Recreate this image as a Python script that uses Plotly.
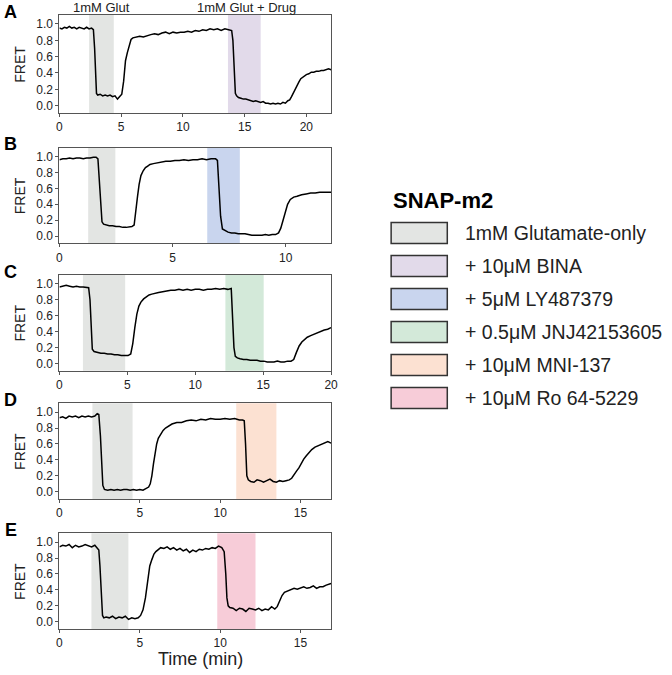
import plotly.graph_objects as go

# ---------------- data ----------------
panel_letters = ["A", "B", "C", "D", "E"]
x_max = [22, 12, 20, 16.9, 16.9]

glut_windows = [(2.4, 4.4), (1.27, 2.47), (1.73, 4.84), (2.05, 4.55), (1.99, 4.29)]
drug_windows = [(13.65, 16.3), (6.53, 7.97), (12.22, 15.04), (11.0, 13.5), (9.82, 12.2)]

legend_title = "SNAP-m2"
legend_labels = ["1mM Glutamate-only", "+ 10\u03bcM BINA", "+ 5\u03bcM LY487379",
                 "+ 0.5\u03bcM JNJ42153605", "+ 10\u03bcM MNI-137", "+ 10\u03bcM Ro 64-5229"]
legend_colors = ["#e3e5e3", "#e2daea", "#c9d5ee", "#d3e9d9", "#fce1d2", "#f7ccd8"]

t_A = [0, 0.2, 0.4, 0.6, 0.8, 1.0, 1.2, 1.4, 1.6, 1.8, 2.0, 2.2, 2.4, 2.6, 2.75, 2.85, 2.92, 3.0,
       3.1, 3.3, 3.5, 3.7, 3.9, 4.1, 4.3, 4.5, 4.7, 4.9, 5.05, 5.2, 5.35, 5.5, 5.65, 5.8, 5.95,
       6.2, 6.5, 6.8, 7.1, 7.4, 7.7, 8.0, 8.3, 8.6, 8.9, 9.2, 9.5, 9.8, 10.1, 10.4, 10.7, 11.0,
       11.3, 11.6, 11.9, 12.2, 12.5, 12.8, 13.1, 13.4, 13.7, 13.95, 14.05, 14.15, 14.25, 14.35,
       14.5, 14.7, 14.9, 15.1, 15.3, 15.5, 15.7, 15.9, 16.1, 16.3, 16.5, 16.7, 16.9, 17.1, 17.3,
       17.5, 17.7, 17.9, 18.1, 18.3, 18.5, 18.65, 18.8, 18.95, 19.1, 19.25, 19.4, 19.55, 19.7,
       19.85, 20.0, 20.2, 20.4, 20.6, 20.8, 21.0, 21.2, 21.4, 21.6, 21.8, 22.0]
fret_A = [0.95, 0.94, 0.96, 0.95, 0.97, 0.95, 0.96, 0.94, 0.96, 0.95, 0.94, 0.96, 0.94, 0.95,
          0.93, 0.70, 0.30, 0.15, 0.13, 0.14, 0.12, 0.13, 0.12, 0.13, 0.11, 0.12, 0.08, 0.11,
          0.14, 0.30, 0.55, 0.65, 0.75, 0.81, 0.83, 0.84, 0.85, 0.84, 0.86, 0.87, 0.88, 0.87,
          0.89, 0.90, 0.88, 0.90, 0.89, 0.90, 0.90, 0.91, 0.90, 0.92, 0.91, 0.93, 0.92, 0.94,
          0.93, 0.94, 0.92, 0.94, 0.93, 0.92, 0.80, 0.40, 0.15, 0.12, 0.10, 0.09, 0.08, 0.08,
          0.07, 0.06, 0.05, 0.06, 0.05, 0.04, 0.05, 0.03, 0.03, 0.02, 0.03, 0.02, 0.03, 0.02,
          0.04, 0.03, 0.06, 0.07, 0.11, 0.16, 0.20, 0.25, 0.29, 0.33, 0.35, 0.37, 0.38, 0.39,
          0.41, 0.41, 0.42, 0.42, 0.43, 0.43, 0.44, 0.45, 0.44]

t_B = [0, 0.15, 0.3, 0.45, 0.6, 0.75, 0.9, 1.05, 1.2, 1.35, 1.5, 1.62, 1.7, 1.76, 1.82, 1.88,
       1.95, 2.05, 2.2, 2.35, 2.5, 2.65, 2.8, 2.95, 3.1, 3.2, 3.3, 3.38, 3.45, 3.52, 3.6, 3.7,
       3.8, 3.9, 4.0, 4.15, 4.3, 4.5, 4.7, 4.9, 5.1, 5.3, 5.5, 5.7, 5.9, 6.1, 6.3, 6.5, 6.7,
       6.9, 6.98, 7.05, 7.12, 7.2, 7.3, 7.45, 7.6, 7.75, 7.9, 8.05, 8.2, 8.35, 8.5, 8.65, 8.8,
       8.95, 9.1, 9.25, 9.4, 9.55, 9.68, 9.78, 9.88, 9.98, 10.08, 10.2, 10.35, 10.5, 10.7,
       10.9, 11.1, 11.3, 11.5, 11.7, 11.9, 12.0]
fret_B = [0.96, 0.97, 0.97, 0.98, 0.97, 0.98, 0.98, 0.97, 0.98, 0.98, 0.99, 0.99, 0.97, 0.70,
          0.35, 0.18, 0.15, 0.14, 0.13, 0.13, 0.12, 0.12, 0.11, 0.11, 0.12, 0.12, 0.14, 0.30,
          0.50, 0.65, 0.76, 0.82, 0.86, 0.88, 0.90, 0.91, 0.92, 0.93, 0.94, 0.94, 0.95, 0.95,
          0.96, 0.95, 0.96, 0.96, 0.97, 0.96, 0.97, 0.97, 0.95, 0.60, 0.25, 0.09, 0.07, 0.05,
          0.04, 0.04, 0.03, 0.03, 0.03, 0.02, 0.01, 0.01, 0.01, 0.01, 0.02, 0.01, 0.02, 0.02,
          0.04, 0.10, 0.20, 0.32, 0.40, 0.46, 0.49, 0.50, 0.52, 0.53, 0.54, 0.54, 0.55, 0.55,
          0.55, 0.55]

t_C = [0, 0.25, 0.5, 0.75, 1.0, 1.25, 1.5, 1.75, 2.0, 2.15, 2.25, 2.33, 2.42, 2.55, 2.8, 3.05,
       3.3, 3.55, 3.8, 4.05, 4.3, 4.55, 4.8, 5.05, 5.25, 5.4, 5.55, 5.7, 5.85, 6.0, 6.2, 6.4,
       6.6, 6.8, 7.0, 7.3, 7.6, 7.9, 8.2, 8.5, 8.8, 9.1, 9.4, 9.7, 10.0, 10.3, 10.6, 10.9, 11.2,
       11.5, 11.8, 12.1, 12.4, 12.65, 12.75, 12.85, 12.95, 13.1, 13.3, 13.55, 13.8, 14.05, 14.3,
       14.55, 14.8, 15.05, 15.3, 15.55, 15.8, 16.05, 16.3, 16.55, 16.8, 17.05, 17.25, 17.45,
       17.65, 17.85, 18.05, 18.25, 18.5, 18.75, 19.0, 19.25, 19.5, 19.75, 20.0]
fret_C = [0.96, 0.97, 0.98, 0.97, 0.96, 0.97, 0.96, 0.96, 0.95, 0.95, 0.80, 0.40, 0.18, 0.15,
          0.14, 0.13, 0.13, 0.12, 0.12, 0.11, 0.11, 0.10, 0.10, 0.10, 0.12, 0.25, 0.45, 0.62,
          0.72, 0.77, 0.81, 0.84, 0.86, 0.87, 0.88, 0.89, 0.90, 0.91, 0.92, 0.92, 0.93, 0.92,
          0.93, 0.92, 0.93, 0.93, 0.92, 0.93, 0.93, 0.94, 0.93, 0.94, 0.93, 0.94, 0.60, 0.20,
          0.09, 0.07, 0.06, 0.05, 0.05, 0.04, 0.04, 0.04, 0.03, 0.03, 0.02, 0.02, 0.02, 0.03,
          0.02, 0.02, 0.03, 0.03, 0.05, 0.14, 0.22, 0.27, 0.30, 0.33, 0.35, 0.37, 0.39, 0.40,
          0.42, 0.43, 0.45]

t_D = [0, 0.2, 0.4, 0.6, 0.8, 1.0, 1.2, 1.4, 1.6, 1.8, 2.0, 2.2, 2.35, 2.45, 2.55, 2.62, 2.7,
       2.8, 3.0, 3.2, 3.4, 3.6, 3.8, 4.0, 4.2, 4.4, 4.6, 4.8, 5.0, 5.2, 5.4, 5.55, 5.65, 5.75,
       5.85, 5.95, 6.05, 6.15, 6.3, 6.45, 6.6, 6.8, 7.0, 7.3, 7.6, 7.9, 8.2, 8.5, 8.8, 9.1, 9.4,
       9.7, 10.0, 10.3, 10.6, 10.9, 11.2, 11.4, 11.5, 11.58, 11.66, 11.75, 11.9, 12.1, 12.3,
       12.5, 12.7, 12.9, 13.1, 13.3, 13.5, 13.7, 13.9, 14.1, 14.3, 14.45, 14.6, 14.75, 14.9,
       15.05, 15.2, 15.35, 15.5, 15.7, 15.9, 16.1, 16.3, 16.5, 16.7, 16.9]
fret_D = [0.93, 0.94, 0.92, 0.95, 0.94, 0.95, 0.93, 0.95, 0.94, 0.95, 0.94, 0.95, 0.98, 0.97,
          0.70, 0.30, 0.08, 0.03, 0.02, 0.03, 0.02, 0.03, 0.02, 0.03, 0.03, 0.02, 0.03, 0.02,
          0.03, 0.02, 0.04, 0.06, 0.10, 0.20, 0.35, 0.50, 0.60, 0.67, 0.73, 0.77, 0.80, 0.83,
          0.85, 0.87, 0.87, 0.89, 0.90, 0.89, 0.91, 0.90, 0.92, 0.91, 0.91, 0.92, 0.91, 0.92,
          0.90, 0.90, 0.89, 0.60, 0.20, 0.15, 0.13, 0.12, 0.15, 0.14, 0.12, 0.14, 0.16, 0.13,
          0.12, 0.14, 0.13, 0.14, 0.15, 0.17, 0.22, 0.26, 0.30, 0.36, 0.41, 0.45, 0.49, 0.53,
          0.56, 0.58, 0.60, 0.62, 0.63, 0.61]

t_E = [0, 0.2, 0.4, 0.6, 0.8, 1.0, 1.2, 1.4, 1.6, 1.8, 2.0, 2.2, 2.35, 2.45, 2.52, 2.6, 2.68,
       2.76, 2.9, 3.1, 3.3, 3.5, 3.7, 3.9, 4.1, 4.3, 4.5, 4.7, 4.9, 5.05, 5.2, 5.35, 5.5, 5.62,
       5.75, 5.88, 6.0, 6.15, 6.3, 6.5, 6.7, 6.9, 7.1, 7.3, 7.5, 7.7, 7.9, 8.1, 8.3, 8.5, 8.7,
       8.9, 9.1, 9.3, 9.5, 9.7, 9.9, 10.1, 10.25, 10.35, 10.42, 10.5, 10.6, 10.8, 11.0, 11.2,
       11.4, 11.6, 11.8, 12.0, 12.2, 12.4, 12.6, 12.8, 13.0, 13.2, 13.4, 13.55, 13.7, 13.85,
       14.0, 14.2, 14.4, 14.6, 14.8, 15.0, 15.2, 15.4, 15.6, 15.8, 16.0, 16.2, 16.4, 16.6,
       16.8, 16.9]
fret_E = [0.94, 0.96, 0.95, 0.97, 0.93, 0.96, 0.94, 0.95, 0.97, 0.95, 0.94, 0.96, 0.92, 0.90,
          0.70, 0.30, 0.08, 0.05, 0.06, 0.05, 0.07, 0.04, 0.06, 0.05, 0.07, 0.03, 0.05, 0.04,
          0.05, 0.08, 0.15, 0.30, 0.50, 0.70, 0.78, 0.85, 0.88, 0.91, 0.93, 0.92, 0.94, 0.91,
          0.93, 0.90, 0.92, 0.89, 0.91, 0.87, 0.90, 0.88, 0.91, 0.90, 0.92, 0.91, 0.93, 0.92,
          0.95, 0.93, 0.88, 0.60, 0.30, 0.20, 0.18, 0.17, 0.14, 0.17, 0.16, 0.13, 0.17, 0.16,
          0.15, 0.17, 0.14, 0.16, 0.15, 0.19, 0.16, 0.19, 0.27, 0.33, 0.37, 0.39, 0.40, 0.42,
          0.41, 0.43, 0.44, 0.42, 0.43, 0.45, 0.42, 0.44, 0.44, 0.46, 0.48, 0.48]

times = [t_A, t_B, t_C, t_D, t_E]
frets = [fret_A, fret_B, fret_C, fret_D, fret_E]
for tt, ff in zip(times, frets):
    assert len(tt) == len(ff), (len(tt), len(ff))

# ---------------- layout helpers ----------------
W, H = 672, 675
FONT = "Liberation Sans, Arial, sans-serif"


def px(x):
    return x / W


def py(y):
    return 1 - y / H


plot_left, plot_right = 57.3, 333.0
panel_tops = [15.0, 147.7, 275.0, 403.3, 533.3]
panel_bottoms = [113.0, 243.3, 370.7, 499.0, 629.0]

fig = go.Figure()
shapes = []
annotations = []

for i in range(5):
    n = "" if i == 0 else str(i + 1)
    xa, ya = "x" + n, "y" + n
    fig.add_trace(go.Scatter(x=times[i], y=frets[i], mode="lines",
                             line=dict(color="black", width=1.5),
                             xaxis=xa, yaxis=ya, showlegend=False, hoverinfo="skip"))
    axis_common = dict(showgrid=False, zeroline=False, showline=True, mirror=True,
                       linecolor="#555555", linewidth=1, ticks="outside", ticklen=3,
                       tickcolor="#555555", tickfont=dict(family=FONT, size=12, color="#222222"))
    fig.layout["xaxis" + n] = dict(domain=[px(plot_left), px(plot_right)],
                                   anchor=ya, range=[0, x_max[i]], dtick=5, **axis_common)
    fig.layout["yaxis" + n] = dict(domain=[py(panel_bottoms[i]), py(panel_tops[i])],
                                   anchor=xa, range=[-0.09, 1.11], tickvals=[0, 0.2, 0.4, 0.6, 0.8, 1.0],
                                   tickformat=".1f", **axis_common)
    # shaded application windows
    for (x0, x1), col in ((glut_windows[i], legend_colors[0]), (drug_windows[i], legend_colors[i + 1])):
        shapes.append(dict(type="rect", xref=xa, yref=ya + " domain", x0=x0, x1=x1, y0=0, y1=1,
                           fillcolor=col, line=dict(width=0), layer="below"))
    # panel letter
    annotations.append(dict(text="<b>%s</b>" % panel_letters[i], xref="paper", yref="paper",
                            x=px(8), y=py(panel_tops[i] - 3.5), showarrow=False,
                            font=dict(family=FONT, size=18, color="black"),
                            xanchor="center", yanchor="middle"))
    # FRET label
    annotations.append(dict(text="FRET", xref="paper", yref="paper", textangle=-90,
                            x=px(17), y=py((panel_tops[i] + panel_bottoms[i]) / 2), showarrow=False,
                            font=dict(family=FONT, size=14, color="#222222"),
                            xanchor="center", yanchor="middle"))

# headers above panel A
annotations.append(dict(text="1mM Glut", xref="paper", yref="paper", x=px(100), y=py(7.5),
                        showarrow=False, font=dict(family=FONT, size=13, color="#222222"),
                        xanchor="center", yanchor="middle"))
annotations.append(dict(text="1mM Glut + Drug", xref="paper", yref="paper", x=px(247), y=py(7.5),
                        showarrow=False, font=dict(family=FONT, size=13, color="#222222"),
                        xanchor="center", yanchor="middle"))
# x-axis title
annotations.append(dict(text="Time (min)", xref="paper", yref="paper", x=px(200), y=py(659),
                        showarrow=False, font=dict(family=FONT, size=18, color="#222222"),
                        xanchor="center", yanchor="middle"))

# legend (drawn manually)
annotations.append(dict(text="<b>%s</b>" % legend_title, xref="paper", yref="paper",
                        x=px(394), y=py(200), showarrow=False,
                        font=dict(family=FONT, size=22, color="black"),
                        xanchor="left", yanchor="middle"))
item_y0, item_step = 233, 33
for k, (lab, col) in enumerate(zip(legend_labels, legend_colors)):
    cy = item_y0 + k * item_step
    shapes.append(dict(type="rect", xref="paper", yref="paper",
                       x0=px(394), x1=px(451), y0=py(cy + 10.5), y1=py(cy - 10.5),
                       fillcolor=col, line=dict(color="#333333", width=1.5)))
    annotations.append(dict(text=lab, xref="paper", yref="paper", x=px(467), y=py(cy),
                            showarrow=False, font=dict(family=FONT, size=19.5, color="#222222"),
                            xanchor="left", yanchor="middle"))

fig.update_layout(width=W, height=H, margin=dict(l=0, r=0, t=0, b=0),
                  paper_bgcolor="white", plot_bgcolor="white",
                  shapes=shapes, annotations=annotations, showlegend=False)

# remove the default page margin so the figure sits at the window origin
fig.write_html("out.html", config={"displayModeBar": False},
               post_script="document.body.style.margin='0px';")
